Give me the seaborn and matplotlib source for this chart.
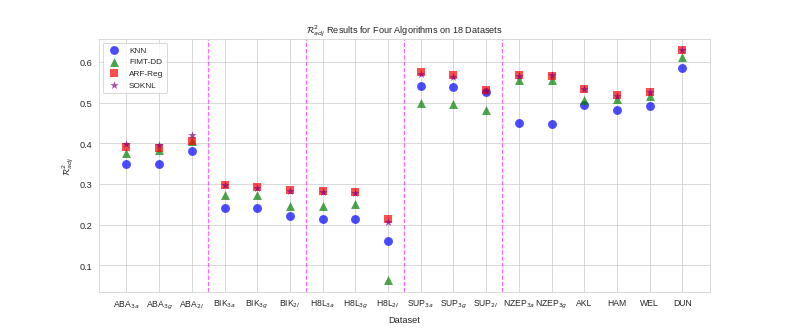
import numpy as np
import pandas as pd
import matplotlib
matplotlib.use('Agg')
import matplotlib.pyplot as plt
import seaborn as sns

#dataset names (mathtext subscripts)
datasets = ['ABA$_{3a}$', 'ABA$_{3g}$', 'ABA$_{2l}$',
            'BIK$_{3a}$', 'BIK$_{3g}$', 'BIK$_{2l}$',
            'H8L$_{3a}$', 'H8L$_{3g}$', 'H8L$_{2l}$',
            'SUP$_{3a}$', 'SUP$_{3g}$', 'SUP$_{2l}$',
            'NZEP$_{3a}$', 'NZEP$_{3g}$', 'AKL', 'HAM', 'WEL', 'DUN']

#adjusted R^2 per algorithm
knn   = [0.349, 0.348, 0.380, 0.241, 0.240, 0.221, 0.215, 0.214, 0.159,
         0.540, 0.539, 0.525, 0.450, 0.448, 0.494, 0.481, 0.491, 0.586]
fimt  = [0.376, 0.383, 0.405, 0.274, 0.274, 0.245, 0.247, 0.250, 0.063,
         0.499, 0.497, 0.481, 0.556, 0.556, 0.506, 0.508, 0.517, 0.612]
arf   = [0.391, 0.389, 0.406, 0.298, 0.292, 0.284, 0.283, 0.280, 0.214,
         0.575, 0.567, 0.532, 0.567, 0.566, 0.534, 0.518, 0.527, 0.629]
soknl = [0.399, 0.397, 0.420, 0.297, 0.290, 0.282, 0.281, 0.277, 0.207,
         0.570, 0.563, 0.529, 0.566, 0.567, 0.533, 0.517, 0.527, 0.629]

#dashed separators between dataset groups
group_breaks = [2.5, 5.5, 8.5, 11.5]

sns.set_style('whitegrid')
plt.rcParams['font.family'] = ['Liberation Sans', 'DejaVu Sans']
plt.rcParams['mathtext.fontset'] = 'dejavusans'

df = pd.DataFrame({'Dataset': datasets, 'KNN': knn, 'FIMT-DD': fimt,
                   'ARF-Reg': arf, 'SOKNL': soknl})

styles = [('KNN', 'o', 'blue', 95),
          ('FIMT-DD', '^', 'green', 95),
          ('ARF-Reg', 's', 'red', 90),
          ('SOKNL', '*', 'purple', 90)]

fig, ax = plt.subplots(figsize=(12, 5), dpi=65.75)
for name, marker, color, size in styles:
    sns.scatterplot(data=df, x='Dataset', y=name, marker=marker, color=color,
                    s=size, alpha=0.7, linewidth=0, label=name, ax=ax)

for b in group_breaks:
    ax.axvline(b, color='magenta', alpha=0.6, linestyle='--', linewidth=1.3)

ax.set_title(r'$\mathcal{R}^2_{adj}$ Results for Four Algorithms on 18 Datasets', fontsize=10)
ax.set_xlabel('Dataset', fontsize=10)
ax.set_ylabel(r'$\mathcal{R}^2_{adj}$', fontsize=10)
ax.tick_params(axis='x', labelsize=9.5)
ax.legend(loc='upper left', fontsize=9)

plt.savefig('out.png', dpi=65.75)
